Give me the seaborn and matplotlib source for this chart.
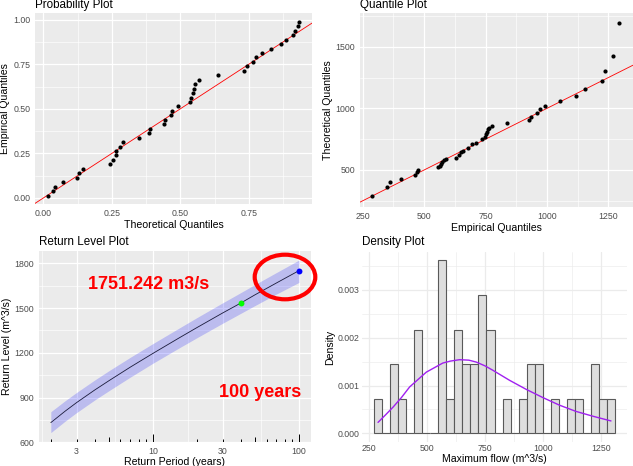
import numpy as np
import seaborn as sns
import matplotlib.pyplot as plt
from matplotlib.patches import Ellipse
from matplotlib.ticker import FixedLocator, NullFormatter

# annual maximum flows (m^3/s), sorted
max_flow = [289, 350, 361, 405, 462, 470, 477, 558, 563, 569,
            574, 580, 590, 628, 640, 650, 657, 678, 695, 710,
            735, 748, 752, 755, 760, 765, 778, 838, 925, 935,
            960, 970, 990, 1052, 1118, 1153, 1224, 1236, 1270, 1292]

# probability plot: fitted cdf at each observation vs plotting position
theo_prob = [0.016, 0.036, 0.043, 0.071, 0.124, 0.131, 0.145, 0.243, 0.255, 0.265,
             0.265, 0.278, 0.289, 0.350, 0.384, 0.390, 0.439, 0.445, 0.466, 0.469,
             0.491, 0.534, 0.540, 0.545, 0.550, 0.554, 0.567, 0.637, 0.734, 0.743,
             0.767, 0.776, 0.797, 0.832, 0.869, 0.885, 0.913, 0.918, 0.929, 0.935]
emp_prob = [0.013, 0.038, 0.063, 0.088, 0.113, 0.138, 0.163, 0.188, 0.213, 0.238,
            0.263, 0.288, 0.313, 0.338, 0.363, 0.388, 0.413, 0.438, 0.463, 0.488,
            0.513, 0.538, 0.563, 0.588, 0.613, 0.638, 0.663, 0.688, 0.713, 0.738,
            0.763, 0.788, 0.813, 0.838, 0.863, 0.888, 0.913, 0.938, 0.963, 0.988]

# quantile plot: fitted quantiles
theo_quant = [289, 360, 400, 430, 457, 481, 500, 522, 535, 550,
              565, 578, 590, 600, 622, 649, 657, 676, 711, 722,
              749, 770, 792, 811, 830, 843, 860, 878, 905, 927,
              960, 992, 1019, 1062, 1100, 1154, 1219, 1303, 1427, 1695]

# return level curve with confidence band
ret_period = [2, 2.5, 3, 4, 5, 7, 10, 15, 20, 30, 40, 50, 70, 100]
ret_level = [732, 808, 866, 951, 1013, 1104, 1196, 1298, 1369, 1467, 1534, 1589, 1668, 1751]
ret_lower = [665, 741, 799, 884, 946, 1037, 1130, 1231, 1301, 1398, 1465, 1517, 1594, 1672]
ret_upper = [805, 878, 934, 1018, 1080, 1170, 1262, 1364, 1436, 1535, 1604, 1658, 1738, 1822]
obs_period, obs_level = 40, 1532
target_period, target_level = 100, 1751.242

# fitted density curve
dens_x = [289, 320, 354, 390, 425, 497, 568, 600, 640, 680,
          712, 750, 783, 855, 927, 998, 1070, 1141, 1213, 1292]
dens_y = [0.00023, 0.00038, 0.00055, 0.00075, 0.00097, 0.00128, 0.00147, 0.00151, 0.00154, 0.00153,
          0.00149, 0.00141, 0.00132, 0.00111, 0.00092, 0.00075, 0.00059, 0.00046, 0.00036, 0.00026]

W, H = 633, 466
sns.set_theme(style='darkgrid')
plt.rcParams['font.family'] = ['Liberation Sans', 'DejaVu Sans']

fig = plt.figure(figsize=(W / 100, H / 100), dpi=100)


def px_axes(l, t, r, b):
    return fig.add_axes([l / W, 1 - b / H, (r - l) / W, (b - t) / H])


def gg_style(ax, minimal=False):
    ax.set_facecolor('white' if minimal else '#EBEBEB')
    gcol = '#EBEBEB' if minimal else 'white'
    ax.grid(True, which='major', color=gcol, lw=0.9)
    ax.grid(True, which='minor', color=gcol, lw=0.45)
    ax.set_axisbelow(True)
    for s in ax.spines.values():
        s.set_visible(False)
    ax.tick_params(which='major', length=0 if minimal else 2, width=0.6, color='#333333',
                   labelsize=6.3, labelcolor='#4D4D4D', pad=1.5)
    ax.tick_params(which='minor', length=0)
    ax.xaxis.set_minor_formatter(NullFormatter())
    ax.yaxis.set_minor_formatter(NullFormatter())


def labels(ax, title, xl, yl, pad=4.3, xpad=1.5):
    ax.set_title(title, loc='left', fontsize=8.4, color='black', pad=pad)
    ax.set_xlabel(xl, fontsize=7.6, color='black', labelpad=xpad)
    ax.set_ylabel(yl, fontsize=7.6, color='black', labelpad=2)


# Probability plot
ax1 = px_axes(35, 13.3, 312, 204.3)
gg_style(ax1)
ax1.axline((0, 0), slope=1, color='red', lw=0.6, zorder=2)
sns.scatterplot(x=theo_prob, y=emp_prob, color='black', s=9, linewidth=0, ax=ax1, zorder=3)
ax1.set_xlim(-0.031, 0.981)
ax1.set_ylim(-0.036, 1.036)
ax1.xaxis.set_major_locator(FixedLocator([0, 0.25, 0.5, 0.75]))
ax1.set_xticklabels(['0.00', '0.25', '0.50', '0.75'])
ax1.xaxis.set_minor_locator(FixedLocator([0.125, 0.375, 0.625, 0.875]))
ax1.yaxis.set_major_locator(FixedLocator([0, 0.25, 0.5, 0.75, 1.0]))
ax1.set_yticklabels(['0.00', '0.25', '0.50', '0.75', '1.00'])
ax1.yaxis.set_minor_locator(FixedLocator([0.125, 0.375, 0.625, 0.875]))
labels(ax1, 'Probability Plot', 'Theoretical Quantiles', 'Empirical Quantiles', pad=4.0)

# Quantile plot
ax2 = px_axes(360, 13.3, 633, 206.7)
gg_style(ax2)
ax2.axline((0, 0), slope=1, color='red', lw=0.6, zorder=2)
sns.scatterplot(x=max_flow, y=theo_quant, color='black', s=9, linewidth=0, ax=ax2, zorder=3)
ax2.set_xlim(239, 1350)
ax2.set_ylim(202, 1771)
ax2.xaxis.set_major_locator(FixedLocator([250, 500, 750, 1000, 1250]))
ax2.xaxis.set_minor_locator(FixedLocator([375, 625, 875, 1125]))
ax2.yaxis.set_major_locator(FixedLocator([500, 1000, 1500]))
ax2.yaxis.set_minor_locator(FixedLocator([250, 750, 1250, 1750]))
labels(ax2, 'Quantile Plot', 'Empirical Quantiles', 'Theoretical Quantiles', pad=4.0)

# Return level plot
ax3 = px_axes(39, 250.7, 311, 442.3)
gg_style(ax3)
ax3.set_xscale('log')
ax3.fill_between(ret_period, ret_lower, ret_upper, color='blue', alpha=0.2, lw=0, zorder=2)
sns.lineplot(x=ret_period, y=ret_level, color='#1a1a3a', lw=0.6, ax=ax3, zorder=3)
sns.scatterplot(x=[obs_period], y=[obs_level], color='#00FF00', s=18, linewidth=0, ax=ax3, zorder=4)
sns.scatterplot(x=[target_period], y=[target_level], color='blue', s=18, linewidth=0, ax=ax3, zorder=4)
ax3.set_xlim(1.66, 121)
ax3.set_ylim(600, 1885)
ax3.xaxis.set_major_locator(FixedLocator([3, 10, 30, 100]))
ax3.set_xticklabels(['3', '10', '30', '100'])
ax3.xaxis.set_minor_locator(FixedLocator([1.732, 5.477, 17.32, 54.77]))
ax3.yaxis.set_major_locator(FixedLocator([600, 900, 1200, 1500, 1800]))
ax3.yaxis.set_minor_locator(FixedLocator([750, 1050, 1350, 1650]))
# log ticks along the bottom of the panel
log_ticks = [2, 3, 4, 5, 6, 7, 8, 9, 10, 20, 30, 40, 50, 60, 70, 80, 90, 100]
tick_len = [0.042 if t in (10, 100) else 0.03 if t in (5, 50) else 0.017 for t in log_ticks]
ax3.vlines(log_ticks, 0, tick_len, transform=ax3.get_xaxis_transform(),
           color='black', lw=0.7, zorder=5)
labels(ax3, 'Return Level Plot', 'Return Period (years)', 'Return Level (m^3/s)', pad=3.9, xpad=0.8)

# Density plot
ax4 = px_axes(362, 252, 627, 442)
gg_style(ax4, minimal=True)
lo, hi = min(max_flow), max(max_flow)
bw = (hi - lo) / 29
edges = lo - bw / 2 + bw * np.arange(31)
sns.histplot(x=max_flow, bins=edges, stat='density', color='#DEDEDE', alpha=1,
             edgecolor='#595959', linewidth=0.8, ax=ax4, zorder=2)
sns.lineplot(x=dens_x, y=dens_y, color='#A020F0', lw=1.0, ax=ax4, zorder=3)
ax4.set_xlim(220, 1361)
ax4.set_ylim(-0.00018, 0.00379)
ax4.xaxis.set_major_locator(FixedLocator([250, 500, 750, 1000, 1250]))
ax4.xaxis.set_minor_locator(FixedLocator([375, 625, 875, 1125]))
ax4.yaxis.set_major_locator(FixedLocator([0, 0.001, 0.002, 0.003]))
ax4.set_yticklabels(['0.000', '0.001', '0.002', '0.003'])
ax4.yaxis.set_minor_locator(FixedLocator([0.0005, 0.0015, 0.0025, 0.0035]))
labels(ax4, 'Density Plot', 'Maximum flow (m^3/s)', 'Density', pad=4.8, xpad=0.8)

# annotations over the return level plot
fig.text(149 / W, 1 - 289.3 / H, '1751.242 m3/s', color='red', fontsize=13,
         fontweight='bold', ha='center', va='baseline')
fig.text(260 / W, 1 - 396.7 / H, '100 years', color='red', fontsize=13,
         fontweight='bold', ha='center', va='baseline')
fig.add_artist(Ellipse((285 / W, 1 - 277 / H), 60.6 / W, 44.6 / H,
                       transform=fig.transFigure, fill=False, edgecolor='red', lw=3))

fig.savefig('out.png', dpi=100)
